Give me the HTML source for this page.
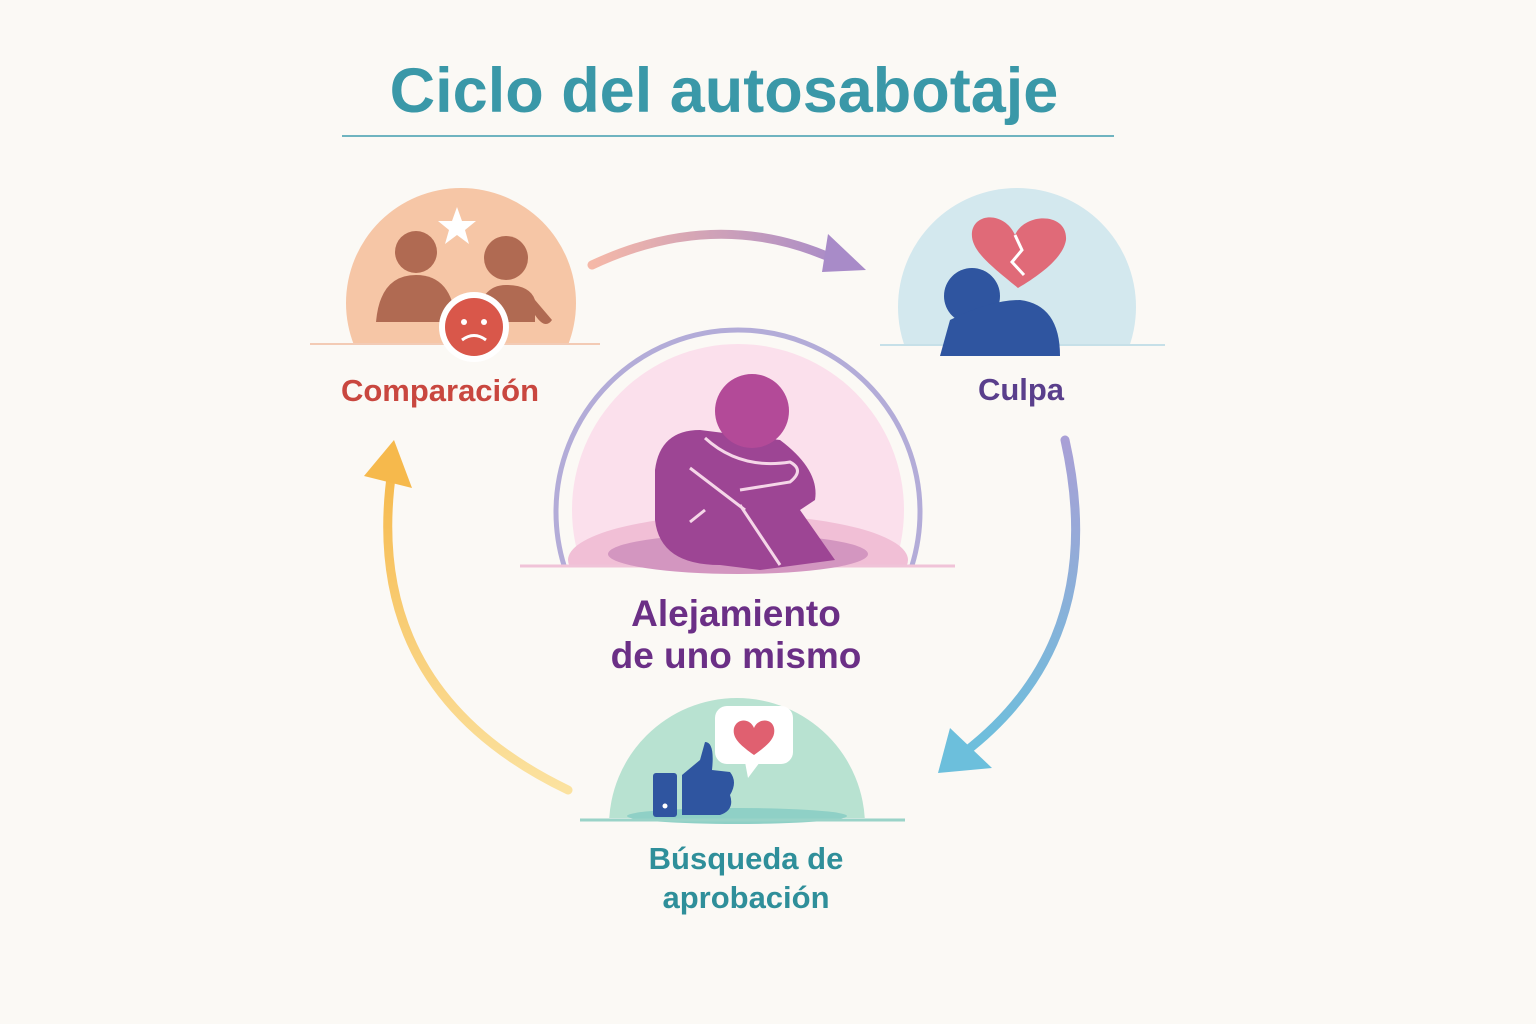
<!DOCTYPE html>
<html><head><meta charset="utf-8"><style>
body{margin:0;width:1536px;height:1024px;background:#fbf9f5;overflow:hidden;font-family:"Liberation Sans",sans-serif}
svg{position:absolute;left:0;top:0}
</style></head><body>
<svg width="1536" height="1024" viewBox="0 0 1536 1024">
<defs>
<linearGradient id="g1" x1="0" x2="1"><stop offset="0" stop-color="#f5b8a8"/><stop offset="1" stop-color="#a88bc8"/></linearGradient>
<linearGradient id="g2" x1="0" y1="0" x2="0" y2="1"><stop offset="0" stop-color="#a9a0d6"/><stop offset="1" stop-color="#6cbfdc"/></linearGradient>
<linearGradient id="g3" x1="0" y1="1" x2="0" y2="0"><stop offset="0" stop-color="#fbe2a0"/><stop offset="1" stop-color="#f6b94c"/></linearGradient>
<clipPath id="c1"><rect x="0" y="0" width="1536" height="345"/></clipPath>
<clipPath id="c2"><rect x="0" y="0" width="1536" height="566"/></clipPath>
<clipPath id="c3"><rect x="0" y="0" width="1536" height="818"/></clipPath>
</defs>
<text x="724" y="112" text-anchor="middle" font-size="63" font-weight="bold" fill="#3a98a8">Ciclo del autosabotaje</text>
<line x1="342" y1="136" x2="1114" y2="136" stroke="#6fb4c0" stroke-width="2"/>
<path d="M592 265 Q720 205 840 262" fill="none" stroke="url(#g1)" stroke-width="9" stroke-linecap="round"/>
<polygon points="866,270 828,234 822,272" fill="#a88bc8"/>
<path d="M1065 440 Q1110 640 965 752" fill="none" stroke="url(#g2)" stroke-width="9" stroke-linecap="round"/>
<polygon points="938,773 950,728 992,768" fill="#6cbfdc"/>
<path d="M568 790 Q360 690 392 470" fill="none" stroke="url(#g3)" stroke-width="9" stroke-linecap="round"/>
<polygon points="394,440 364,476 412,488" fill="#f6b94c"/>
<g clip-path="url(#c1)"><circle cx="461" cy="303" r="115" fill="#f6c6a6"/></g>
<line x1="310" y1="344" x2="600" y2="344" stroke="#f3cbb5" stroke-width="2"/>
<circle cx="416" cy="252" r="21" fill="#b06a52"/>
<path d="M376 322 Q380 275 416 275 Q452 275 456 322 Z" fill="#b06a52"/>
<circle cx="506" cy="258" r="22" fill="#b06a52"/>
<path d="M476 322 Q480 285 506 285 Q530 285 535 300 L552 320 Q545 330 535 315 L535 322Z" fill="#b06a52"/>
<polygon points="457,207 462,221 476,221 465,230 469,244 457,235 445,244 449,230 438,221 452,221" fill="#fff"/>
<circle cx="474" cy="327" r="35" fill="#fff"/><circle cx="474" cy="327" r="29" fill="#d9574a"/>
<circle cx="464" cy="322" r="3" fill="#fff"/><circle cx="484" cy="322" r="3" fill="#fff"/>
<path d="M462 340 Q474 331 486 340" stroke="#fff" stroke-width="3" fill="none"/>
<text x="440" y="401" text-anchor="middle" font-size="31" font-weight="bold" fill="#c9473f">Comparación</text>
<g clip-path="url(#c1)"><circle cx="1017" cy="307" r="119" fill="#d3e8ee"/></g>
<line x1="880" y1="345" x2="1165" y2="345" stroke="#c6e0e8" stroke-width="2"/>
<path d="M1018 288 C990 265 970 250 972 232 C975 212 1005 212 1015 235 C1025 212 1068 212 1066 240 C1063 258 1040 275 1018 288Z" fill="#e06a78"/>
<path d="M1015 235 L1022 250 L1012 262 L1024 275" stroke="#fff" stroke-width="3" fill="none"/>
<circle cx="972" cy="296" r="28" fill="#2f55a0"/>
<path d="M940 356 L950 320 Q990 300 1020 300 Q1060 305 1060 356Z" fill="#2f55a0"/>
<text x="1021" y="400" text-anchor="middle" font-size="31" font-weight="bold" fill="#5a3f8c">Culpa</text>
<g clip-path="url(#c2)">
<circle cx="738" cy="512" r="182" fill="none" stroke="#b3acd8" stroke-width="5"/>
<circle cx="738" cy="510" r="166" fill="#fbe0ec"/>
<ellipse cx="738" cy="560" rx="170" ry="45" fill="#f1bfd6"/>
</g>
<line x1="520" y1="566" x2="955" y2="566" stroke="#f0c3d8" stroke-width="3"/>
<ellipse cx="738" cy="554" rx="130" ry="20" fill="#d396c0"/>
<path d="M655 470 Q660 430 700 430 L780 440 Q820 470 815 500 L800 510 L835 560 L760 570 L720 565 Q660 565 655 520Z" fill="#9d4594"/>
<circle cx="752" cy="411" r="37" fill="#b34a98"/>
<path d="M705 438 Q740 470 790 462 Q805 470 790 482 L740 490 M690 468 L745 510 M705 510 L690 522 M740 505 L780 565" stroke="#f5d6e8" stroke-width="3" fill="none"/>
<text x="736" y="626" text-anchor="middle" font-size="37" font-weight="bold" fill="#6b2f86">Alejamiento</text>
<text x="736" y="668" text-anchor="middle" font-size="37" font-weight="bold" fill="#6b2f86">de uno mismo</text>
<g clip-path="url(#c3)"><circle cx="737" cy="826" r="128" fill="#b8e2d1"/></g>
<ellipse cx="737" cy="816" rx="110" ry="8" fill="#8fd0c6"/>
<line x1="580" y1="820" x2="905" y2="820" stroke="#9ad3c8" stroke-width="3"/>
<rect x="715" y="706" width="78" height="58" rx="12" fill="#fff"/>
<polygon points="745,762 760,762 748,778" fill="#fff"/>
<path d="M754 755 C740 745 732 738 734 728 C737 718 750 718 754 728 C758 718 772 718 774 728 C776 738 768 745 754 755Z" fill="#e06070"/>
<rect x="653" y="773" width="24" height="44" rx="3" fill="#2f55a0"/>
<path d="M682 775 L700 760 L705 742 Q715 742 712 770 L730 772 Q738 782 730 795 Q735 810 720 815 L682 815Z" fill="#2f55a0"/>
<circle cx="665" cy="806" r="2.5" fill="#fff"/>
<text x="746" y="869" text-anchor="middle" font-size="31" font-weight="bold" fill="#2f8f9a">Búsqueda de</text>
<text x="746" y="908" text-anchor="middle" font-size="31" font-weight="bold" fill="#2f8f9a">aprobación</text>
</svg>
</body></html>
